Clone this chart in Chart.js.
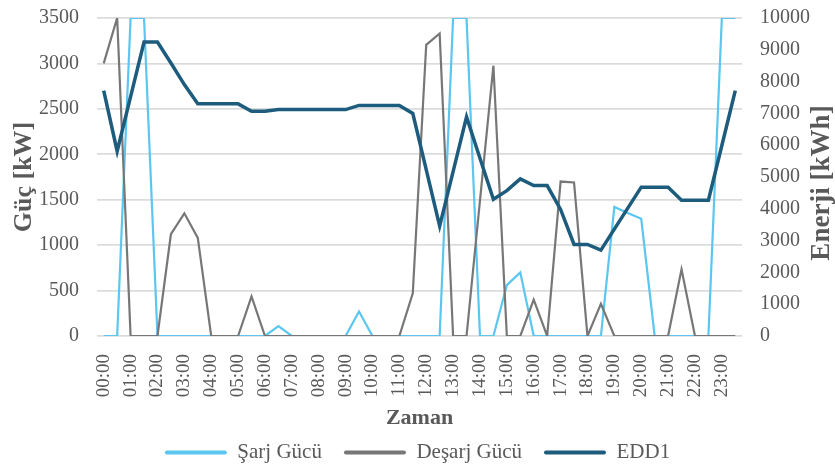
<!DOCTYPE html>
<html>
<head>
<meta charset="utf-8">
<script src="https://cdn.jsdelivr.net/npm/chart.js@4.4.1/dist/chart.umd.min.js"></script>
<style>
  html, body { margin: 0; padding: 0; background: #ffffff; }
  #wrap { width: 835px; height: 468px; }
</style>
</head>
<body>
<div id="wrap"><canvas id="c" width="835" height="468"></canvas></div>
<script>
// ---- Data ----
const timeLabels = [
  "00:00","00:30","01:00","01:30","02:00","02:30","03:00","03:30",
  "04:00","04:30","05:00","05:30","06:00","06:30","07:00","07:30",
  "08:00","08:30","09:00","09:30","10:00","10:30","11:00","11:30",
  "12:00","12:30","13:00","13:30","14:00","14:30","15:00","15:30",
  "16:00","16:30","17:00","17:30","18:00","18:30","19:00","19:30",
  "20:00","20:30","21:00","21:30","22:00","22:30","23:00","23:30"
];
// Şarj Gücü [kW]
const sarjGucu = [
  0, 0, 3500, 3500, 0, 0, 0, 0,
  0, 0, 0, 0, 0, 110, 0, 0,
  0, 0, 0, 270, 0, 0, 0, 0,
  0, 0, 3500, 3500, 0, 0, 560, 700,
  0, 0, 0, 0, 0, 0, 1420, 1355,
  1290, 0, 0, 0, 0, 0, 3500, 3500
];
// Deşarj Gücü [kW]
const desarjGucu = [
  3000, 3500, 0, 0, 0, 1120, 1350, 1080,
  0, 0, 0, 435, 0, 0, 0, 0,
  0, 0, 0, 0, 0, 0, 0, 470,
  3205, 3330, 0, 0, 1490, 2975, 0, 0,
  400, 0, 1700, 1690, 0, 355, 0, 0,
  0, 0, 0, 735, 0, 0, 0, 0
];
// EDD1 [kWh]
const edd1 = [
  7720, 5810, 7530, 9245, 9245, 8585, 7905, 7300,
  7300, 7300, 7300, 7070, 7070, 7120, 7120, 7120,
  7120, 7120, 7120, 7250, 7250, 7250, 7250, 7000,
  5230, 3455, 5170, 6890, 5590, 4300, 4570, 4940,
  4730, 4730, 3980, 2880, 2880, 2700, 3360, 4020,
  4680, 4680, 4680, 4270, 4270, 4270, 5990, 7715
];
const seriesNames = ["Şarj Gücü", "Deşarj Gücü", "EDD1"];
const leftTicksMax = 3500, leftStep = 500;
const rightTicksMax = 10000, rightStep = 1000;
const axisTitles = { x: "Zaman", left: "Güç [kW]", right: "Enerji [kWh]" };

// ---- Styles ----
const SERIF = "'Liberation Serif', 'Times New Roman', serif";
const TXT = "#595959";
const C_SARJ = "#5BC6F0";
const C_DESARJ = "#777777";
const C_EDD = "#1D5C7C";

Chart.defaults.font.family = SERIF;
Chart.defaults.color = TXT;

const rightTitlePlugin = {
  id: 'rightTitle',
  afterDraw(chart) {
    const ctx = chart.ctx;
    const area = chart.chartArea;
    ctx.save();
    ctx.translate(822, (area.top + area.bottom) / 2 + 6);
    ctx.rotate(-Math.PI / 2);
    ctx.font = "bold 27px " + SERIF;
    ctx.fillStyle = TXT;
    ctx.textAlign = "center";
    ctx.textBaseline = "middle";
    ctx.fillText(axisTitles.right, 0, 0);
    ctx.restore();
  }
};

new Chart(document.getElementById('c'), {
  type: 'line',
  data: {
    labels: timeLabels,
    datasets: [
      { label: seriesNames[0], data: sarjGucu, yAxisID: 'yL', borderColor: C_SARJ, backgroundColor: C_SARJ,
        borderWidth: 2.2, pointRadius: 0, tension: 0, order: 3 },
      { label: seriesNames[1], data: desarjGucu, yAxisID: 'yL', borderColor: C_DESARJ, backgroundColor: C_DESARJ,
        borderWidth: 2.2, pointRadius: 0, tension: 0, order: 2 },
      { label: seriesNames[2], data: edd1, yAxisID: 'yR', borderColor: C_EDD, backgroundColor: C_EDD,
        borderWidth: 3.5, pointRadius: 0, tension: 0, order: 1 }
    ]
  },
  options: {
    responsive: false,
    animation: false,
    devicePixelRatio: 1,
    layout: { padding: { top: 18, left: 0, right: 0, bottom: 0 } },
    plugins: {
      tooltip: { enabled: false },
      legend: {
        position: 'bottom',
        maxHeight: 48,
        labels: {
          boxWidth: 62,
          boxHeight: 4,
          padding: 22,
          font: { size: 21, family: SERIF },
          color: TXT,
          sort: (a, b) => a.datasetIndex - b.datasetIndex,
          generateLabels(chart) {
            const items = Chart.defaults.plugins.legend.labels.generateLabels(chart);
            items.forEach(it => {
              const ds = chart.data.datasets[it.datasetIndex];
              it.fillStyle = ds.borderColor;
              it.lineWidth = 0;
              it.borderRadius = 2;
            });
            return items;
          }
        }
      }
    },
    scales: {
      x: {
        type: 'category',
        offset: true,
        grid: { display: false, drawTicks: false },
        border: { display: false },
        ticks: {
          autoSkip: false,
          minRotation: 90,
          maxRotation: 90,
          padding: 18,
          font: { size: 19, family: SERIF },
          color: TXT,
          callback: function (v, i) { return i % 2 === 0 ? this.getLabelForValue(v) : ''; }
        },
        title: {
          display: true,
          text: axisTitles.x,
          font: { size: 22, weight: 'bold', family: SERIF },
          color: TXT,
          padding: { top: 0, bottom: -12 }
        },
        afterFit(scale) { scale.height = 84; }
      },
      yL: {
        position: 'left',
        min: 0,
        max: leftTicksMax,
        ticks: { stepSize: leftStep, padding: 0, font: { size: 20, family: SERIF }, color: TXT,
                 callback: v => String(v) },
        grid: { color: '#DCDCDC', lineWidth: 1.8, drawTicks: true, tickLength: 18, tickColor: 'rgba(0,0,0,0)' },
        border: { display: false },
        title: {
          display: true,
          text: axisTitles.left,
          font: { size: 26, weight: 'bold', family: SERIF },
          color: TXT,
          padding: { top: 9, bottom: 0 }
        },
        afterFit(scale) { scale.width = 97; }
      },
      yR: {
        position: 'right',
        min: 0,
        max: rightTicksMax,
        ticks: { stepSize: rightStep, padding: 0, font: { size: 20, family: SERIF }, color: TXT,
                 callback: v => String(v) },
        grid: { display: false, drawOnChartArea: false, drawTicks: true, tickLength: 18, tickColor: 'rgba(0,0,0,0)' },
        border: { display: false },
        title: { display: false },
        afterFit(scale) { scale.width = 93; }
      }
    }
  },
  plugins: [rightTitlePlugin]
});
</script>
</body>
</html>
